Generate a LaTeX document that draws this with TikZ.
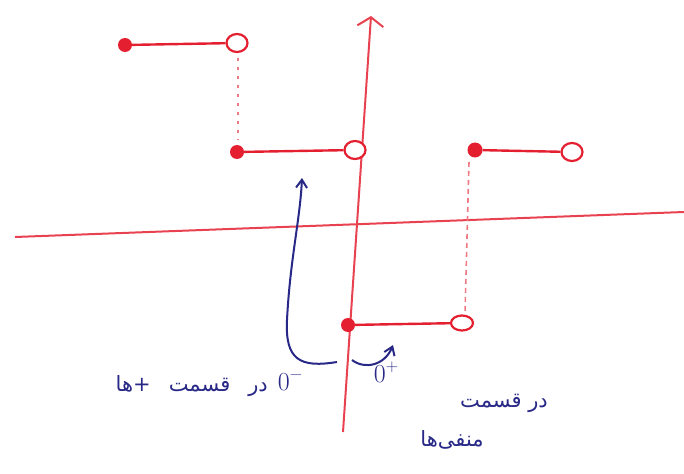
\documentclass[tikz,border=0pt]{standalone}
\usepackage{fontspec}
\newfontfamily\arabicfont[Script=Arabic]{DejaVu Sans}
\TeXXeTstate=1
\usetikzlibrary{arrows.meta,shapes.geometric}
\definecolor{pen}{RGB}{228,32,48}
\definecolor{ink}{RGB}{40,40,135}
\newcommand{\zerosup}[1]{0\raisebox{11pt}{\fontsize{17}{18}\selectfont #1}}
\tikzset{
  axisline/.style={draw=pen!85, line width=2pt},
  stepline/.style={draw=pen, line width=2.4pt},
  fdot/.style={circle, fill=pen, inner sep=0pt, minimum size=14pt},
  odot/.style={ellipse, draw=pen, line width=2.2pt, fill=white, inner sep=0pt, minimum width=21pt, minimum height=18pt},
  guide/.style={draw=pen!60, line width=1.6pt, dash pattern=on 3pt off 6pt},
  bluearrow/.style={draw=ink, line width=2pt, -{Straight Barb[length=8pt,width=11pt]}},
  lbl/.style={text=ink, inner sep=0pt, font=\arabicfont\fontsize{21}{24}\selectfont},
  mlbl/.style={text=ink, inner sep=0pt, font=\fontsize{26}{30}\selectfont}
}
\begin{document}
\begin{tikzpicture}[x=1pt,y=-1pt]
\useasboundingbox (0,0) rectangle (684,473);
% axes
\coordinate (xl) at (15,237);
\coordinate (xr) at (684,212);
\coordinate (yb) at (343,432);
\coordinate (yt) at (371,16);
\draw[axisline] (xl) -- (xr);
\draw[axisline, -{Straight Barb[length=9pt,width=26pt]}] (yb) -- (yt);
% guides
\coordinate (g1t) at (238,58);
\coordinate (g1b) at (238,140);
\draw[guide] (g1t) -- (g1b);
\coordinate (g2t) at (469,162);
\coordinate (g2b) at (465,313);
\draw[guide, dash pattern=on 5pt off 4pt] (g2t) -- (g2b);
% steps
\node[fdot] (a1) at (125,45) {};
\node[odot] (a2) at (237,43) {};
\draw[stepline] (a1) -- (a2);
\node[fdot] (b1) at (237,152) {};
\node[odot] (b2) at (355,150) {};
\draw[stepline] (b1) -- (b2);
\node[fdot, minimum size=15pt] (c1) at (475,150) {};
\node[odot] (c2) at (572,152) {};
\draw[stepline] (c1) -- (c2);
\node[fdot] (d1) at (348,325) {};
\node[odot, minimum width=22pt, minimum height=15pt] (d2) at (462,323) {};
\draw[stepline] (d1) -- (d2);
% blue arrows
\coordinate (s1) at (337,362);
\coordinate (e1) at (302,178);
\draw[bluearrow] (s1) .. controls (300,368) and (285,360) .. (287,320)
  .. controls (290,260) and (300,220) .. (e1);
\coordinate (s2) at (352,360);
\coordinate (e2) at (393,345);
\draw[bluearrow] (s2) .. controls (365,370) and (385,365) .. (e2);
% labels
\node[mlbl] (zm) at (290,382) {\zerosup{−}};
\node[lbl, anchor=east] (t1) at (268,386) {\spaceskip=18pt\beginR در قسمت +ها\endR};
\node[mlbl] (zp) at (386,372) {\zerosup{+}};
\node[lbl] (t2) at (504,403) {\beginR در قسمت\endR};
\node[lbl] (t3) at (452,440) {\beginR منفی‌ها\endR};
\end{tikzpicture}
\end{document}
